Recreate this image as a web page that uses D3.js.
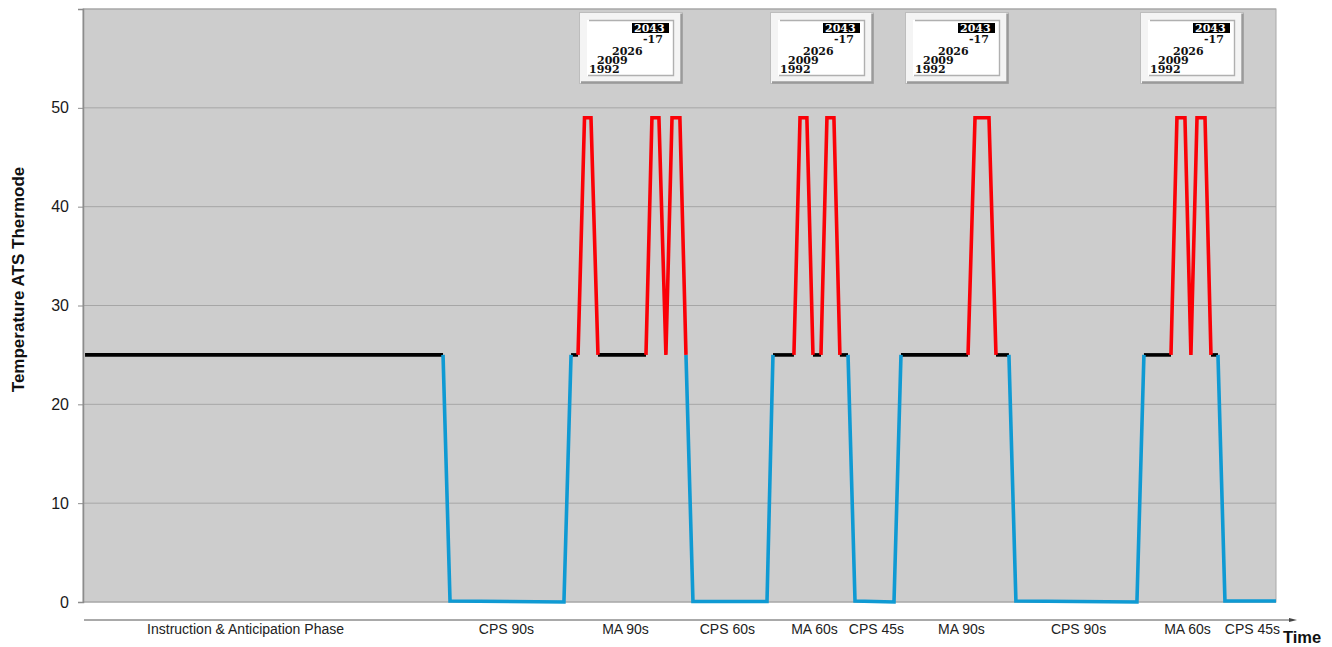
<!DOCTYPE html>
<html>
<head>
<meta charset="utf-8">
<script src="https://cdn.jsdelivr.net/npm/d3@7"></script>
<style>
  html, body { margin: 0; padding: 0; background: #fff; overflow: hidden; }
  text { font-family: "Liberation Sans", Arial, sans-serif; }
  .inset text { font-family: "DejaVu Serif", serif; font-weight: bold; font-size: 11px; fill: #111; }
</style>
</head>
<body>
<div id="main"></div>
<script>
// data (time in seconds, roughly)

const times = [1.6, 283.5, 289, 378.7, 384.3, 389.8, 394.9, 400, 405.5, 443.3, 448, 453.5, 459, 463.8, 470, 474.8,
    480.3, 538.6, 543.3, 559.8, 564.6, 570, 574.8, 581.1, 585.8, 591.3, 596, 602.4, 607.9, 638.6, 644.1,
    696.9, 702.4, 713.4, 718.9, 729.1, 734.6, 829.9, 835.4, 856.7, 861.4, 867.7, 872.4, 877.2, 883.5, 888.2,
    893.7, 899.2, 939.4];
const temps = [25, 25, 0.1, 0, 25, 25, 49, 49, 25, 25, 49, 49, 25, 49, 49, 25,
    0.05, 0.05, 25, 25, 49, 49, 25, 25, 49, 49, 25, 25, 0.1, 0, 25,
    25, 49, 49, 25, 25, 0.1, 0, 25, 25, 49, 49, 25, 49, 49, 25,
    25, 0.1, 0.1];
// which stimulus each stretch between two points belongs to
const states = ['rest', 'cps', 'cps', 'cps', 'rest', 'ma', 'ma', 'ma', 'rest', 'ma', 'ma', 'ma', 'ma', 'ma', 'ma',
    'cps', 'cps', 'cps', 'rest', 'ma', 'ma', 'ma', 'rest', 'ma', 'ma', 'ma', 'rest', 'cps', 'cps', 'cps',
    'rest', 'ma', 'ma', 'ma', 'rest', 'cps', 'cps', 'cps', 'rest', 'ma', 'ma', 'ma', 'ma', 'ma', 'ma',
    'rest', 'cps', 'cps'];

const yTicks = [0, 10, 20, 30, 40, 50, 60];

const phaseNames = ['Instruction & Anticipation Phase', 'CPS 90s', 'MA 90s', 'CPS 60s', 'MA 60s', 'CPS 45s',
    'MA 90s', 'CPS 90s', 'MA 60s', 'CPS 45s'];
const phaseCentres = [127.6, 333, 426.8, 507, 575.6, 624.4, 691.3, 783.5, 869.3, 920.5];

const insetTimes = [390.5, 541, 647, 832];
const insetYears = ['2043', '-17', '2026', '2009', '1992'];

// SVG

const w = 1332;
const h = 647;
const left = 83;
const right = 1276;
const top_ = 9;
const bottom = 602;

const svg = d3.select('#main')
    .append('svg')
    .attr('width', w)
    .attr('height', h)
    .style('display', 'block')

const x = d3.scaleLinear().domain([0, 939.4]).range([left, right]);
const y = d3.scaleLinear().domain([0, 60]).range([bottom, top_]);

svg.append('rect')
    .attr('x', left)
    .attr('y', top_)
    .attr('width', right - left)
    .attr('height', bottom - top_)
    .attr('fill', '#cdcdcd')
    .attr('stroke', '#a8a8a8')

// grid

svg.selectAll('.grid')
    .data(yTicks)
    .enter()
    .append('line')
    .attr('class', 'grid')
    .attr('x1', left)
    .attr('x2', right)
    .attr('y1', d => y(d))
    .attr('y2', d => y(d))
    .attr('stroke', '#a6a6a6')
    .attr('stroke-width', 1)

// axes

const yAxis = d3.axisLeft(y)
    .tickValues(yTicks)
    .tickSize(5)
    .tickPadding(9)
    .tickFormat(d => d == 60 ? '' : d)

const yG = svg.append('g')
    .attr('transform', `translate(${left}, 0)`)
    .call(yAxis)
    .style('font-size', '16px')

yG.selectAll('path, line').attr('stroke', '#8c8c8c')
yG.select('path').attr('stroke-width', 1.5)
yG.selectAll('text').attr('fill', '#1a1a1a').style('font-family', '"Liberation Sans", Arial, sans-serif')

svg.append('text')
    .attr('transform', 'translate(24, 279.5) rotate(-90)')
    .attr('text-anchor', 'middle')
    .attr('font-weight', 'bold')
    .attr('font-size', '17px')
    .attr('fill', '#111')
    .text('Temperature ATS Thermode')

const xAxis = d3.axisBottom(x)
    .tickValues(phaseCentres)
    .tickSize(0)
    .tickPadding(4)
    .tickFormat((d, i) => phaseNames[i])

const xG = svg.append('g')
    .attr('transform', 'translate(0, 620)')
    .call(xAxis)
    .style('font-size', '14px')

xG.select('path').remove()
xG.selectAll('text').attr('fill', '#222').style('font-family', '"Liberation Sans", Arial, sans-serif')

svg.append('line')
    .attr('x1', left + 1)
    .attr('x2', 1291)
    .attr('y1', 620)
    .attr('y2', 620)
    .attr('stroke', '#555')
    .attr('stroke-width', 1)

svg.append('path')
    .attr('d', 'M1297,620 L1289,618 L1289,622 Z')
    .attr('fill', '#444')

svg.append('text')
    .attr('x', 1283)
    .attr('y', 643)
    .attr('font-weight', 'bold')
    .attr('font-size', '16.5px')
    .attr('fill', '#111')
    .text('Time')

// trace, split in runs of the same state

const colors = { rest: '#000000', cps: '#0f9ad3', ma: '#fb0007' };

const runs = [];
states.forEach((s, i) => {
    const last = runs[runs.length - 1];
    if (last && last.state == s) {
        last.idx.push(i + 1);
    } else {
        runs.push({ state: s, idx: [i, i + 1] });
    }
})

const line = d3.line()
    .x(i => x(times[i]))
    .y(i => y(temps[i]))

// black first so the coloured parts sit on top of it
const order = { rest: 0, cps: 1, ma: 2 };

svg.selectAll('.run')
    .data(runs.slice().sort((a, b) => order[a.state] - order[b.state]))
    .enter()
    .append('path')
    .attr('class', 'run')
    .attr('d', d => line(d.idx))
    .attr('fill', 'none')
    .attr('stroke', d => colors[d.state])
    .attr('stroke-width', 3.6)
    .attr('stroke-linejoin', 'miter')

// year pictures above the MA phases

const inset = svg.selectAll('.inset')
    .data(insetTimes)
    .enter()
    .append('g')
    .attr('class', 'inset')
    .attr('transform', d => `translate(${Math.round(x(d))}, 12)`)

// raised frame: grey outline, white band, grey band round the inner field
inset.append('rect')
    .attr('x', 0.5)
    .attr('y', 0.5)
    .attr('width', 103)
    .attr('height', 71)
    .attr('fill', '#f4f4f4')
    .attr('stroke', '#bdbdbd')

inset.append('path')
    .attr('d', 'M102.5,1.5 V70.5 H2')
    .attr('fill', 'none')
    .attr('stroke', '#9a9a9a')
    .attr('stroke-width', 2.4)

inset.append('rect')
    .attr('x', 8)
    .attr('y', 8)
    .attr('width', 87)
    .attr('height', 56)
    .attr('fill', '#ffffff')

inset.append('path')
    .attr('d', 'M10,8.5 H94.5 V63.5 H9')
    .attr('fill', 'none')
    .attr('stroke', '#b0b0b0')
    .attr('stroke-width', 1.4)

inset.append('rect')
    .attr('x', 53)
    .attr('y', 11)
    .attr('width', 37)
    .attr('height', 10)
    .attr('fill', '#000')

const yearX = [55, 64, 33, 18, 10];
const yearY = [20, 31, 43, 52, 61];

inset.selectAll('text')
    .data(insetYears)
    .enter()
    .append('text')
    .attr('x', (d, i) => yearX[i])
    .attr('y', (d, i) => yearY[i])
    .style('fill', (d, i) => i == 0 ? '#fff' : '#111')
    .text(d => d)
</script>
</body>
</html>
